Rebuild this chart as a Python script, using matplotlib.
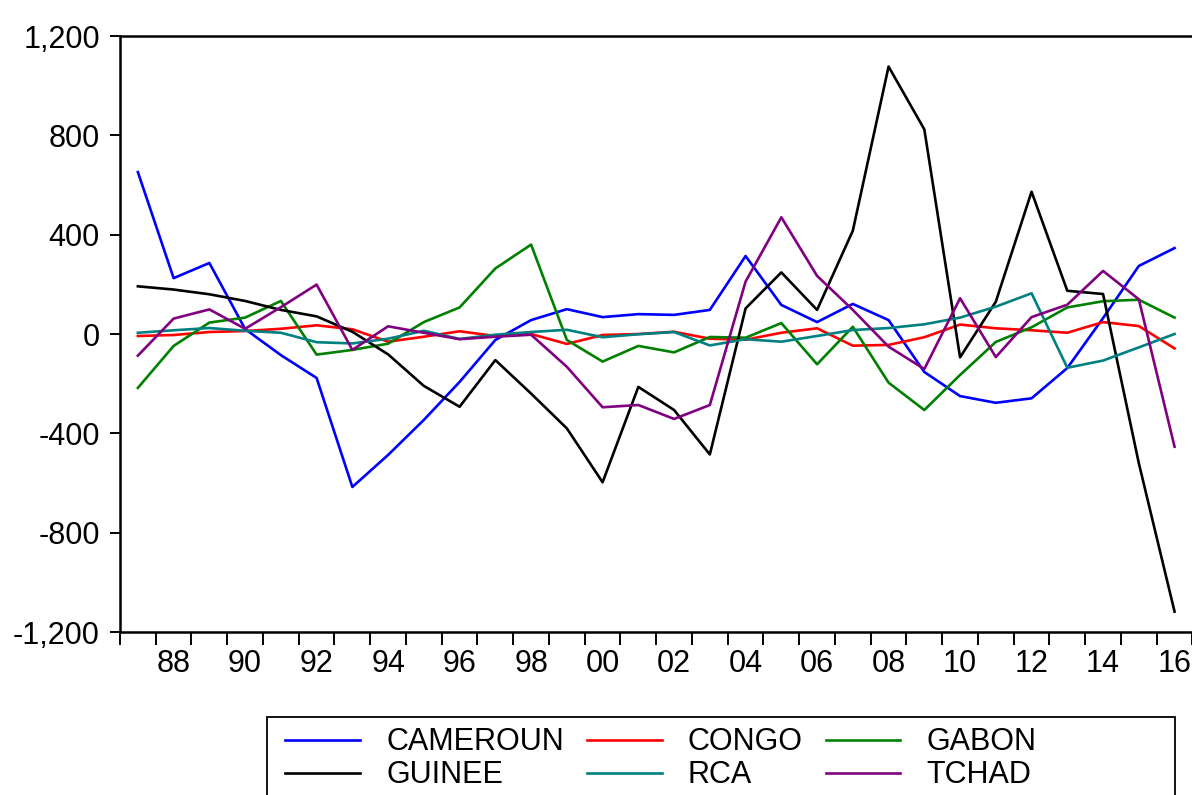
import matplotlib
matplotlib.use("Agg")
import matplotlib.pyplot as plt
from matplotlib.patches import Rectangle

plt.rcParams['font.family'] = ['Liberation Sans', 'DejaVu Sans']

years = list(range(1987, 2017))

cameroun = [652, 225, 286, 20, -85, -177, -616, -487, -346, -193, -24, 56, 100, 68, 80, 77, 97,
            314, 117, 48, 121, 56, -153, -250, -277, -259, -137, 64, 274, 346]
congo = [-8, -4, 8, 12, 21, 35, 19, -31, -11, 11, -8, 0, -40, -4, 0, 9, -19,
         -23, 5, 23, -47, -44, -13, 38, 23, 15, 5, 48, 32, -58]
gabon = [-217, -48, 46, 66, 133, -83, -64, -39, 48, 107, 264, 360, -24, -111, -48, -74, -12,
         -15, 44, -122, 29, -196, -306, -165, -32, 27, 107, 132, 138, 66]
guinee = [192, 179, 160, 133, 97, 71, 9, -82, -209, -293, -105, -240, -380, -597, -213, -306, -485,
          103, 248, 97, 416, 1077, 824, -94, 130, 573, 174, 161, -520, -1118]
rca = [5, 15, 24, 13, 5, -33, -38, -19, 13, -20, -3, 8, 17, -13, -1, 8, -46,
       -21, -31, -8, 16, 24, 39, 66, 110, 164, -136, -107, -54, 0]
tchad = [-87, 62, 99, 21, 108, 199, -64, 31, 5, -21, -11, -3, -132, -295, -286, -342, -286,
         211, 470, 234, 97, -51, -141, 144, -93, 68, 118, 254, 140, -454]

series = [("CAMEROUN", cameroun, "#0000ff"), ("CONGO", congo, "#ff0000"),
          ("GABON", gabon, "#008000"), ("GUINEE", guinee, "#000000"),
          ("RCA", rca, "#008080"), ("TCHAD", tchad, "#800080")]

yticks = [-1200, -800, -400, 0, 400, 800, 1200]
ytick_labels = ["-1,200", "-800", "-400", "0", "400", "800", "1,200"]

fig = plt.figure(figsize=(11.92, 7.95), dpi=100)
ax = fig.add_axes([120 / 1192, 1 - 632 / 795, (1196 - 120) / 1192, (632 - 36) / 795])

idx = list(range(len(years)))
handles = []
for name, vals, col in series:
    h, = ax.plot(idx, vals, color=col, lw=1.9, label=name)
    handles.append(h)

ax.set_ylim(-1200, 1200)
ax.set_xlim(-0.5, 29.6)
ax.set_yticks(yticks)
ax.set_yticklabels(ytick_labels)

# year boundaries get the tick marks, labels sit under even years
ax.set_xticks([i - 0.5 for i in range(len(years) + 1)])
ax.set_xticklabels([])
ax.set_xticks([i for i, y in enumerate(years) if y % 2 == 0], minor=True)
ax.set_xticklabels(["%02d" % (y % 100) for y in years if y % 2 == 0], minor=True)
ax.tick_params(axis='x', which='major', direction='out', length=9, width=1.4)
ax.tick_params(axis='x', which='minor', length=0, pad=12, labelsize=22)
ax.tick_params(axis='y', direction='out', length=7.5, width=1.4, pad=7, labelsize=22)
ax.tick_params(top=False, right=False)
for s in ax.spines.values():
    s.set_linewidth(1.8)

# legend fills row by row: three per row
order = [0, 3, 1, 4, 2, 5]
leg = fig.legend(handles=[handles[i] for i in order], ncol=3, loc='upper left',
                 bbox_to_anchor=(270 / 1192, 1 - 712 / 795), frameon=False,
                 fontsize=22, handlelength=2.45, handletextpad=0.85,
                 columnspacing=0.75, labelspacing=0.1, borderpad=0.0)
fig.add_artist(Rectangle((267 / 1192, -0.05), (1175 - 267) / 1192, 0.05 + 1 - 717 / 795,
                         transform=fig.transFigure, fill=False, lw=1.3, ec='black'))

fig.savefig("out.png", dpi=100)
